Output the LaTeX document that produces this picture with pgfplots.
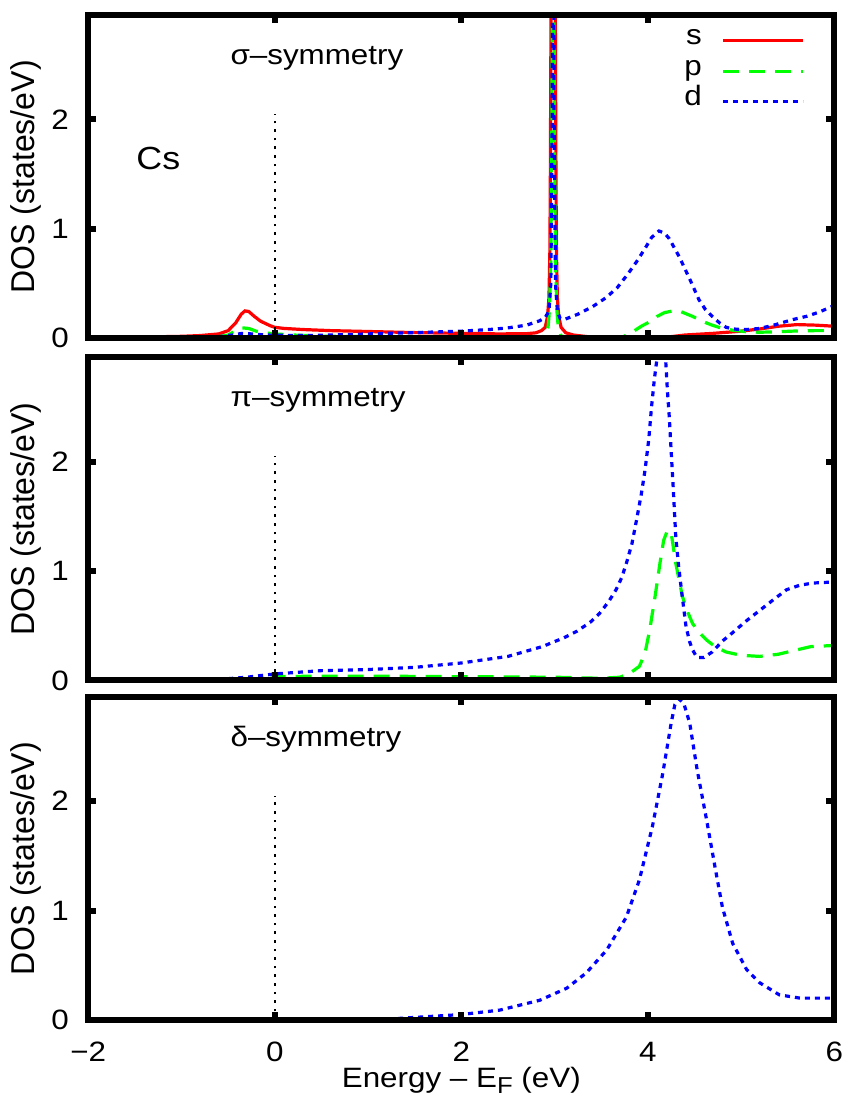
\documentclass[border=0pt]{standalone}
\usepackage{fontspec}
\setmainfont{Liberation Sans}[FakeStretch=1.12]
\newfontfamily\ylabfont{Liberation Sans}[FakeStretch=0.97]
\usepackage{pgfplots}
\pgfplotsset{compat=1.18}
\pgfplotsset{
 dospanel/.style={
  scale only axis, width=373pt, height=161.5pt,
  xmin=-2,xmax=6,ymin=0,ymax=2.95,
  xtick={-2,0,2,4,6}, ytick={0,1,2},
  tick align=inside, axis on top,
  axis line style={line width=3pt},
  major tick length=4pt,
  major tick style={black, line width=3pt},
  font=\fontsize{14}{16}\selectfont,
  /pgf/number format/assume math mode=true,
  yticklabel style={anchor=east, inner sep=0pt, xshift=-9.5pt},
  xticklabel style={anchor=base, inner sep=0pt, yshift=-20.5pt},
  ylabel={DOS (states/eV)},
  every axis y label/.style={at={(axis description cs:-0.084,0.5)}, rotate=90, anchor=center, font=\ylabfont\fontsize{16.5}{18}\selectfont},
 },
 sline/.style={red, line width=1.6pt},
 pline/.style={green, line width=1.6pt, dash pattern=on 8pt off 5pt},
 dline/.style={blue, line width=1.6pt, dash pattern=on 2.5pt off 2.5pt},
 zline/.style={black, line width=0.7pt, dash pattern=on 1.3pt off 3pt, forget plot},
}
\begin{document}
\begin{tikzpicture}
% ---------------- panel 1 : sigma ----------------
\begin{axis}[dospanel, at={(0,340.85pt)}, anchor=south west, xticklabels={},
  legend plot pos=right, legend cell align=right,
  legend image code/.code={\draw[#1] (0pt,0pt) -- (40pt,0pt);},
  legend style={draw=none, fill=none, at={(rel axis cs:1,1)}, anchor=north east,
    xshift=-11.5pt, yshift=-3pt, column sep=10pt, row sep=0pt,
    nodes={inner sep=0pt, text height=9.6pt, text depth=5.6pt}}]
\addplot[sline] coordinates {(-2,0.005) (-1.5,0.01) (-1,0.018) (-0.8,0.025) (-0.6,0.04) (-0.5,0.07) (-0.42,0.14) (-0.36,0.22) (-0.32,0.25) (-0.28,0.245) (-0.22,0.2) (-0.15,0.155) (-0.05,0.115) (0,0.1) (0.1,0.09) (0.3,0.08) (0.6,0.07) (1,0.062) (1.5,0.052) (2,0.045) (2.4,0.04) (2.7,0.042) (2.8,0.05) (2.86,0.07) (2.9,0.1) (2.925,0.2) (2.94,0.37) (2.95,0.8) (2.955,1.5) (2.96,2.5) (2.965,4) (2.985,8) (3.005,4) (3.01,2.5) (3.015,1.5) (3.02,0.8) (3.03,0.37) (3.045,0.2) (3.07,0.1) (3.12,0.05) (3.2,0.03) (3.4,0.01) (3.6,0.003) (4.0,0.003) (4.2,0.01) (4.4,0.03) (4.7,0.045) (5.0,0.065) (5.2,0.085) (5.4,0.11) (5.6,0.125) (5.8,0.12) (6.0,0.11)};
\addlegendentry{s}
\addplot[pline] coordinates {(-2,0) (-1,0.005) (-0.6,0.015) (-0.5,0.03) (-0.42,0.07) (-0.35,0.095) (-0.28,0.09) (-0.2,0.065) (-0.1,0.05) (0,0.04) (0.2,0.03) (0.5,0.02) (1,0.015) (2,0.012) (2.5,0.008) (2.8,0.004) (2.9,0.02) (2.93,0.1) (2.945,0.25) (2.96,0.7) (2.972,2) (2.985,6) (2.998,2) (3.01,0.7) (3.025,0.25) (3.04,0.1) (3.07,0.02) (3.2,0.0) (3.7,0.0) (3.75,0.02) (3.84,0.06) (3.93,0.11) (4.02,0.15) (4.1,0.2) (4.18,0.235) (4.27,0.25) (4.35,0.245) (4.48,0.2) (4.6,0.15) (4.69,0.12) (4.8,0.09) (4.9,0.075) (5.05,0.06) (5.2,0.055) (5.4,0.06) (5.6,0.067) (5.8,0.07) (6.0,0.07)};
\addlegendentry{p}
\addplot[dline] coordinates {(-2,0.0) (-1,0.005) (-0.6,0.015) (-0.45,0.03) (-0.35,0.045) (-0.25,0.04) (-0.1,0.03) (0,0.028) (0.3,0.025) (0.6,0.03) (1,0.04) (1.5,0.052) (2,0.065) (2.3,0.08) (2.5,0.095) (2.7,0.12) (2.84,0.16) (2.9,0.19) (2.94,0.25) (2.96,0.5) (2.975,2) (2.985,6) (2.995,2) (3.01,0.5) (3.03,0.25) (3.06,0.18) (3.1,0.17) (3.25,0.22) (3.41,0.29) (3.55,0.37) (3.67,0.46) (3.78,0.58) (3.88,0.70) (3.97,0.82) (4.04,0.92) (4.12,0.98) (4.18,0.96) (4.23,0.91) (4.34,0.74) (4.45,0.54) (4.55,0.35) (4.62,0.26) (4.69,0.2) (4.77,0.14) (4.84,0.10) (4.92,0.085) (5.0,0.08) (5.1,0.082) (5.2,0.09) (5.35,0.12) (5.55,0.17) (5.7,0.2) (5.84,0.24) (6.0,0.3)};
\addlegendentry{d}
\addplot[zline] coordinates {(0,0) (0,2.05)};
\node[anchor=base west] at (axis cs:-0.55,2.5) {σ–symmetry};
\node[anchor=base west, font=\fontsize{16}{18}\selectfont] at (axis cs:-1.56,1.54) {Cs};
\end{axis}
% ---------------- panel 2 : pi ----------------
\begin{axis}[dospanel, at={(0,169.75pt)}, anchor=south west, xticklabels={}]
\addplot[pline] coordinates {(-2,0) (-0.1,0) (0,0.035) (0.5,0.04) (1,0.04) (2,0.035) (3,0.03) (3.5,0.02) (3.7,0.03) (3.8,0.06) (3.91,0.13) (3.97,0.25) (4.02,0.46) (4.08,0.78) (4.13,1.07) (4.17,1.28) (4.21,1.37) (4.25,1.35) (4.3,1.07) (4.37,0.77) (4.43,0.62) (4.48,0.52) (4.55,0.44) (4.63,0.37) (4.72,0.31) (4.84,0.26) (5.0,0.23) (5.2,0.22) (5.4,0.24) (5.55,0.27) (5.75,0.31) (6.0,0.32)};
\addplot[dline] coordinates {(-2,0.0) (-1,0.003) (-0.6,0.01) (-0.3,0.03) (0,0.06) (0.5,0.09) (1,0.10) (1.5,0.12) (2,0.16) (2.5,0.22) (2.87,0.31) (3.1,0.39) (3.24,0.45) (3.38,0.53) (3.48,0.61) (3.58,0.72) (3.66,0.83) (3.72,0.94) (3.77,1.07) (3.83,1.25) (3.88,1.47) (3.93,1.7) (3.97,1.92) (4.01,2.2) (4.04,2.5) (4.07,2.75) (4.1,2.95) (4.13,3.1) (4.16,3.1) (4.19,2.95) (4.21,2.65) (4.23,2.41) (4.25,2.1) (4.27,1.80) (4.3,1.31) (4.33,1.05) (4.36,0.83) (4.41,0.49) (4.45,0.35) (4.48,0.28) (4.52,0.22) (4.55,0.21) (4.6,0.21) (4.69,0.26) (4.8,0.36) (4.9,0.43) (5.05,0.54) (5.2,0.64) (5.35,0.74) (5.49,0.83) (5.63,0.87) (5.77,0.89) (6.0,0.90)};
\addplot[zline] coordinates {(0,0) (0,2.05)};
\node[anchor=base west] at (axis cs:-0.55,2.5) {π–symmetry};
\end{axis}
% ---------------- panel 3 : delta ----------------
\begin{axis}[dospanel, at={(0,0)}, anchor=south west,
  xticklabels={−2,0,2,4,6},
  xlabel={Energy – E\raisebox{-0.45ex}{\fontsize{11.5}{12}\selectfont F} (eV)},
  every axis x label/.style={at={(axis description cs:0.5,0)}, anchor=base, yshift=-33.5pt}]
\addplot[dline] coordinates {(-2,0) (0.9,0) (1.34,0.015) (2,0.05) (2.41,0.09) (2.84,0.18) (3.13,0.29) (3.34,0.43) (3.56,0.64) (3.77,0.94) (3.91,1.28) (4.05,1.77) (4.16,2.25) (4.25,2.71) (4.29,2.88) (4.34,2.93) (4.39,2.88) (4.45,2.71) (4.53,2.28) (4.63,1.83) (4.72,1.40) (4.80,1.03) (4.91,0.70) (5.06,0.46) (5.2,0.34) (5.41,0.23) (5.63,0.20) (6,0.2)};
\addplot[zline] coordinates {(0,0) (0,2.05)};
\node[anchor=base west] at (axis cs:-0.55,2.5) {δ–symmetry};
\end{axis}
\pgfresetboundingbox
\useasboundingbox (-44.15pt,-40.5pt) rectangle (379.85pt,510pt);
\end{tikzpicture}
\end{document}
